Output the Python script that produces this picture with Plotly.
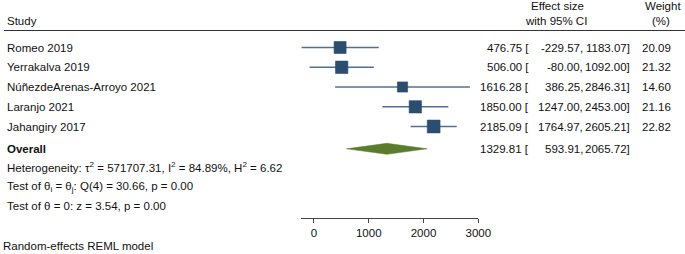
import plotly.graph_objects as go

# ---------------- data ----------------
studies = ["Romeo 2019", "Yerrakalva 2019", "NúñezdeArenas-Arroyo 2021",
           "Laranjo 2021", "Jahangiry 2017"]
effect = [476.75, 506.00, 1616.28, 1850.00, 2185.09]
ci_low = [-229.57, -80.00, 386.25, 1247.00, 1764.97]
ci_high = [1183.07, 1092.00, 2846.31, 2453.00, 2605.21]
weight = [20.09, 21.32, 14.60, 21.16, 22.82]
overall_effect = 1329.81
overall_low = 593.91
overall_high = 2065.72
tick_vals = [0, 1000, 2000, 3000]
tick_text = ["0", "1000", "2000", "3000"]
het_text = "Heterogeneity: τ<sup>2</sup> = 571707.31, I<sup>2</sup> = 84.89%, H<sup>2</sup> = 6.62"
test1_text = "Test of θ<sub>i</sub> = θ<sub>j</sub>: Q(4) = 30.66, p = 0.00"
test2_text = "Test of θ = 0: z = 3.54, p = 0.00"
model_text = "Random-effects REML model"

# ---------------- layout helpers ----------------
W, H = 685, 254
FONT = "Liberation Sans, Arial, sans-serif"
FS = 11.5
row_y = [47.5, 67.3, 87.0, 106.8, 126.5]
overall_y = 148.8
axis_y = 218


def px(x):
    return x / W


def py(y):
    return 1 - y / H


SQ = "#2a4d70"
LN = "#4f7094"
DIA = "#5b7b2d"

fig = go.Figure()

# weighted squares with CI lines
fig.add_trace(go.Scatter(
    x=effect, y=row_y, mode="markers",
    marker=dict(symbol="square", color=SQ, opacity=1,
                size=[2.68 * w ** 0.5 for w in weight],
                line=dict(width=0.6, color=SQ)),
    error_x=dict(type="data", symmetric=False,
                 array=[h - e for h, e in zip(ci_high, effect)],
                 arrayminus=[e - l for e, l in zip(effect, ci_low)],
                 color=LN, thickness=1.4, width=0),
    showlegend=False))

# overall diamond
dh = 5.5
fig.add_trace(go.Scatter(
    x=[overall_low, overall_effect, overall_high, overall_effect, overall_low],
    y=[overall_y, overall_y - dh, overall_y, overall_y + dh, overall_y],
    mode="lines", fill="toself", fillcolor=DIA,
    line=dict(color=DIA, width=0.5), showlegend=False))

ann = []


def txt(x, y, t, anchor="left", bold=False):
    ann.append(dict(x=px(x), y=py(y), xref="paper", yref="paper",
                    text=("<b>%s</b>" % t) if bold else t, showarrow=False,
                    xanchor=anchor, yanchor="middle",
                    font=dict(family=FONT, size=FS, color="#111")))


# header
txt(5, 21.5, "Study")
txt(557, 6.5, "Effect size", "center")
txt(556, 21.5, "with 95% CI", "center")
txt(663, 6.5, "Weight", "center")
txt(661, 21.5, "(%)", "center")

for i, s in enumerate(studies):
    y = row_y[i]
    txt(5, y, s)
    txt(531, y, "%.2f [" % effect[i], "right")
    txt(585, y, "%.2f," % ci_low[i], "right")
    txt(632, y, "%.2f]" % ci_high[i], "right")
    txt(673, y, "%.2f" % weight[i], "right")

txt(5, overall_y, "Overall", bold=True)
txt(531, overall_y, "%.2f [" % overall_effect, "right")
txt(585, overall_y, "%.2f," % overall_low, "right")
txt(632, overall_y, "%.2f]" % overall_high, "right")

txt(5, 167, het_text)
txt(5, 186.5, test1_text)
txt(5, 206, test2_text)
txt(1, 246.3, model_text)

fig.update_layout(
    width=W, height=H,
    margin=dict(l=0, r=0, t=0, b=0),
    paper_bgcolor="white", plot_bgcolor="white",
    annotations=ann,
    shapes=[dict(type="line", xref="paper", yref="paper",
                 x0=px(4), x1=1, y0=py(30.5), y1=py(30.5),
                 line=dict(color="#333", width=1))],
    xaxis=dict(domain=[px(301.4), px(478.3)],
               range=[min(ci_low), max(tick_vals)],
               tickvals=tick_vals, ticktext=tick_text,
               ticks="outside", ticklen=4, tickcolor="#444", tickwidth=1,
               showline=True, linecolor="#444", linewidth=1,
               showgrid=False, zeroline=False, automargin=False,
               tickfont=dict(family=FONT, size=FS, color="#111")),
    yaxis=dict(domain=[(H - axis_y) / H, 1], range=[axis_y, 0],
               visible=False, showgrid=False, zeroline=False,
               automargin=False, fixedrange=True),
)

fig.write_html("out.html", config={"displayModeBar": False},
               post_script="document.body.style.margin='0';document.body.style.overflow='hidden';")
